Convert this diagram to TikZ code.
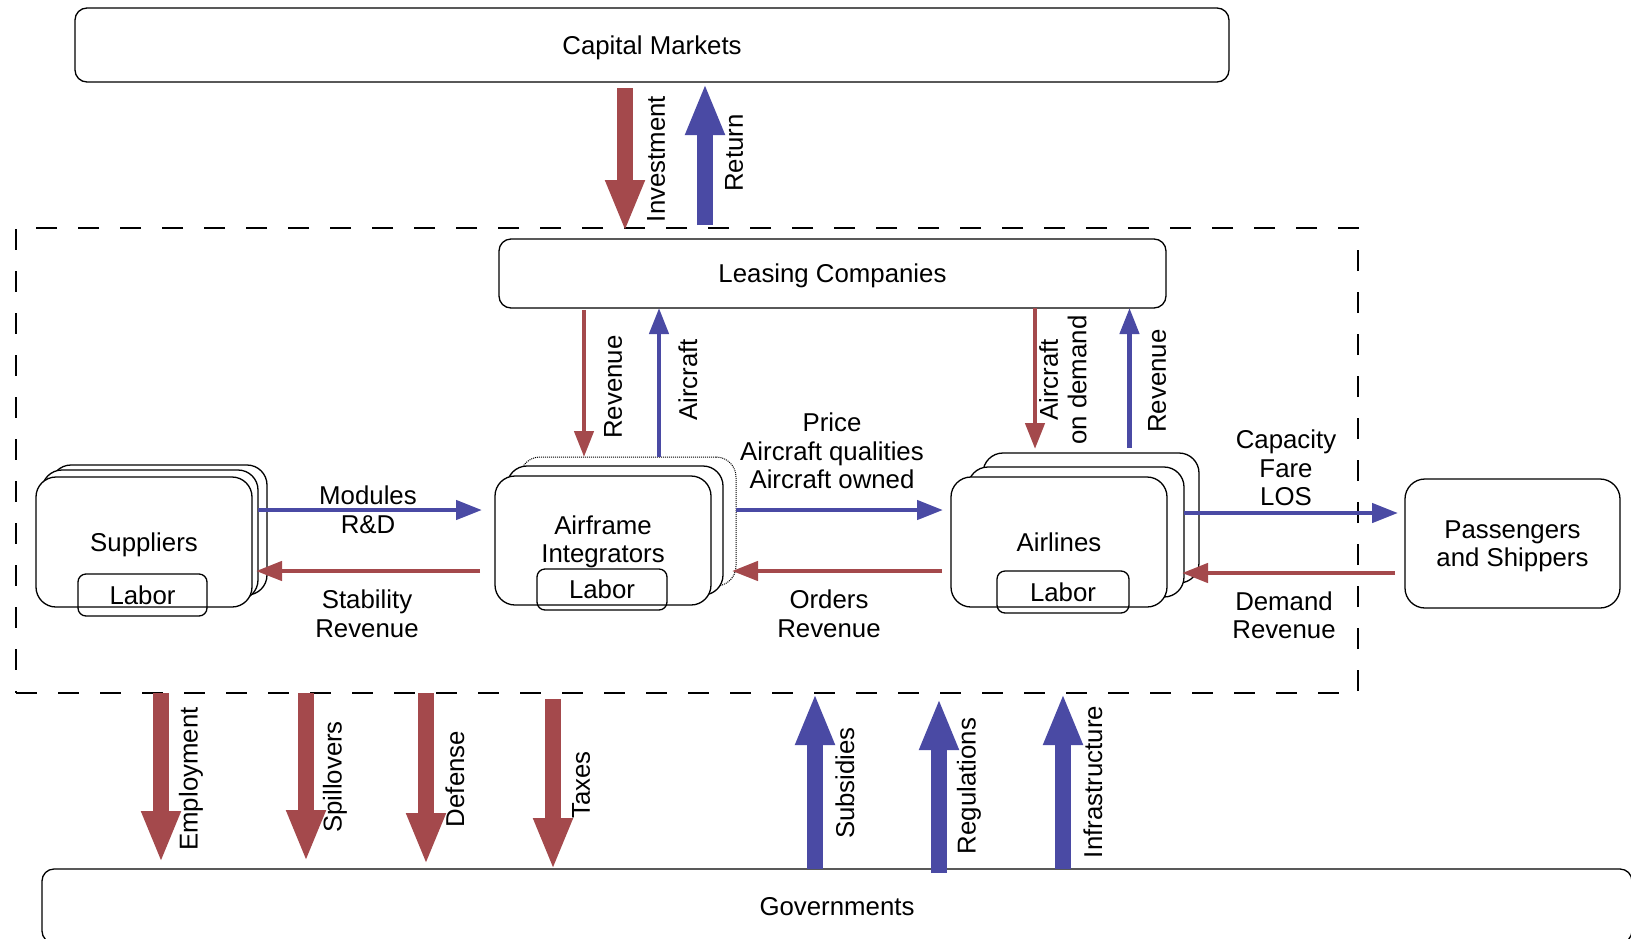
\documentclass[tikz,border=0pt]{standalone}
\usepackage{fontspec}
\setmainfont{Liberation Sans}
\usetikzlibrary{arrows.meta}
\definecolor{flowred}{RGB}{164,73,76}
\definecolor{flowblue}{RGB}{74,74,164}
\begin{document}
\begin{tikzpicture}[x=1pt,y=-1pt,
  every node/.style={font=\fontsize{25.8pt}{28.5pt}\selectfont, inner sep=0pt, outer sep=0pt},
  box/.style={draw, line width=1.3pt, rounded corners=12pt, fill=white, text depth=0pt},
  unit/.style={box, rounded corners=20pt, minimum width=216pt, minimum height=130pt},
  ghost/.style={unit, line width=1pt, densely dotted},
  labor/.style={draw, line width=1.3pt, rounded corners=8pt, minimum height=42pt},
  thinred/.style={draw=flowred, line width=4.5pt, -{Triangle[length=26pt,width=19pt]}},
  thinblue/.style={draw=flowblue, line width=4.5pt, -{Triangle[length=26pt,width=19pt]}},
  bigred/.style={draw=flowred, line width=16pt, -{Triangle[length=52pt,width=36pt]}},
  bigblue/.style={draw=flowblue, line width=16pt, -{Triangle[length=52pt,width=36pt]}},
  vlabel/.style={rotate=90, align=center},
  hlabel/.style={align=center}
]
\useasboundingbox (0,0) rectangle (1631,938);

% industry boundary
\node[draw, line width=2pt, dash pattern=on 21pt off 21pt,
      minimum width=1342pt, minimum height=465pt] (ind) at (687,460.5) {};

% outer actors
\node[box, minimum width=1154pt, minimum height=74pt] (cm) at (652,45) {Capital Markets};
\node[box, minimum width=667pt, minimum height=69pt] (lc) at (832.5,273.5) {Leasing Companies};
\node[box, rounded corners=20pt, minimum width=215pt, minimum height=129pt, align=center]
  (pas) at (1512.5,543.5) {Passengers\\and Shippers};
\node[box, minimum width=1590pt, minimum height=74pt] (gov) at (837,906) {Governments};

% suppliers stack
\node[unit] (sup3) at (159,530) {};
\node[unit] (sup2) at (150,535) {};
\node[unit] (sup) at (144,542) {Suppliers};
\node[labor, minimum width=129pt] (supL) at (142.5,595) {Labor};

% airframe integrators stack
\node[ghost, minimum height=129pt] (af3) at (628,521.5) {};
\node[unit, minimum height=129pt] (af2) at (615,530.5) {};
\node[unit, minimum height=129pt, align=center, text depth=2.7pt] (af) at (603,540.5) {Airframe\\Integrators};
\node[labor, minimum width=130pt, minimum height=41pt] (afL) at (602,589.5) {Labor};

% airlines stack
\node[unit] (al3) at (1091,518) {};
\node[unit] (al2) at (1076,532) {};
\node[unit] (al) at (1059,542) {Airlines};
\node[labor, minimum width=132pt] (alL) at (1063,592) {Labor};

% reference positions for the flows
\coordinate (xInv) at (625,0);
\coordinate (xRet) at (705,0);
\coordinate (xLRev) at (584,0);
\coordinate (xLAir) at (659,0);
\coordinate (xRAir) at (1035,0);
\coordinate (xRRev) at (1129.5,0);
\coordinate (xEmp) at (161,0);
\coordinate (xSpl) at (306,0);
\coordinate (xDef) at (426,0);
\coordinate (xTax) at (553,0);
\coordinate (xSub) at (815,0);
\coordinate (xReg) at (939,0);
\coordinate (xInf) at (1063,0);
\coordinate (yFwd) at (0,510);
\coordinate (yBack) at (0,571);
\coordinate (yFwdR) at (0,513);
\coordinate (yBackR) at (0,573);

% capital markets flows
\draw[bigred, shorten <=6pt, shorten >=7pt] (cm.south -| xInv) -- (lc.north -| xInv);
\draw[bigblue, shorten <=14pt, shorten >=1pt] (lc.north -| xRet) -- (cm.south -| xRet);
\node[vlabel] (lInv) at (656,159) {Investment};
\node[vlabel] (lRet) at (734,153) {Return};

% leasing flows
\draw[thinred, shorten <=2pt] (lc.south -| xLRev) -- (af3.north -| xLRev);
\draw[thinblue] (af3.north -| xLAir) -- (lc.south -| xLAir);
\draw[thinred, shorten >=4pt] (lc.south -| xRAir) -- (al3.north -| xRAir);
\draw[thinblue, shorten <=5pt] (al3.north -| xRRev) -- (lc.south -| xRRev);
\node[vlabel] (lLRev) at (613,387) {Revenue};
\node[vlabel] (lLAir) at (688,380) {Aircraft};
\node[vlabel] (lRAir) at (1063,380) {Aircraft\\on demand};
\node[vlabel] (lRRev) at (1157,381) {Revenue};

% value chain flows
\draw[thinblue, shorten >=13pt] (sup2.east |- yFwd) -- (af.west |- yFwd);
\draw[thinred, shorten <=15pt, shorten >=-2pt] (af.west |- yBack) -- (sup2.east |- yBack);
\draw[thinblue, shorten >=8pt] (af3.east |- yFwd) -- (al.west |- yFwd);
\draw[thinred, shorten <=9pt, shorten >=-4pt] (al.west |- yBack) -- (af3.east |- yBack);
\draw[thinblue, shorten >=7pt] (al2.east |- yFwdR) -- (pas.west |- yFwdR);
\draw[thinred, shorten <=10pt, shorten >=-2pt] (pas.west |- yBackR) -- (al2.east |- yBackR);
\node[hlabel] (lMod) at (368,510) {Modules\\R\&D};
\node[hlabel] (lStab) at (367,614) {Stability\\Revenue};
\node[hlabel] (lPrice) at (832,451) {Price\\Aircraft qualities\\Aircraft owned};
\node[hlabel] (lOrd) at (829,614) {Orders\\Revenue};
\node[hlabel] (lCap) at (1286,468) {Capacity\\Fare\\LOS};
\node[hlabel] (lDem) at (1284,615.5) {Demand\\Revenue};

% government flows
\draw[bigred, shorten >=6pt] (ind.south -| xEmp) -- (gov.north -| xEmp);
\draw[bigred, shorten >=7pt] (ind.south -| xSpl) -- (gov.north -| xSpl);
\draw[bigred, shorten >=4pt] (ind.south -| xDef) -- (gov.north -| xDef);
\draw[bigred, shorten <=6pt, shorten >=-1pt] (ind.south -| xTax) -- (gov.north -| xTax);
\draw[bigblue] (gov.north -| xSub) -- (ind.south -| xSub);
\draw[bigblue, shorten <=-4pt, shorten >=5pt] (gov.north -| xReg) -- (ind.south -| xReg);
\draw[bigblue] (gov.north -| xInf) -- (ind.south -| xInf);
\node[vlabel] (lEmp) at (191,779) {Employment};
\node[vlabel] (lSpl) at (335,777) {Spillovers};
\node[vlabel] (lDef) at (455,779) {Defense};
\node[vlabel] (lTax) at (581,785) {Taxes};
\node[vlabel] (lSub) at (845,783) {Subsidies};
\node[vlabel] (lReg) at (969,786) {Regulations};
\node[vlabel] (lInf) at (1093,782) {Infrastructure};
\end{tikzpicture}
\end{document}
